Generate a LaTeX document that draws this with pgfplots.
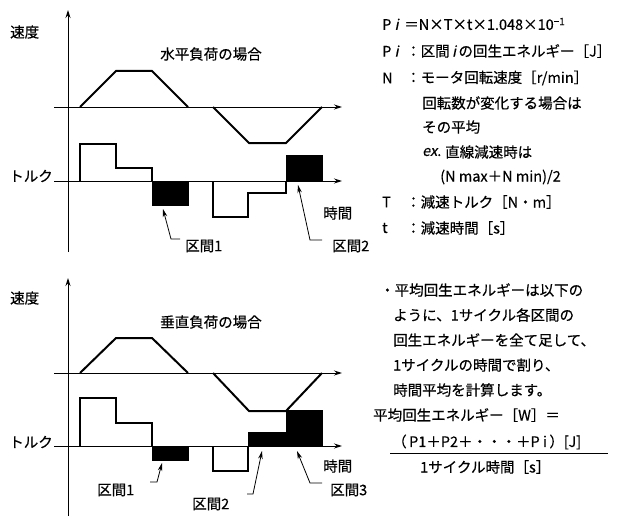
\documentclass[border=0pt]{standalone}
\usepackage{fontspec}
\setmainfont{Noto Sans CJK JP}[FakeBold=0.4]
\newfontfamily\slfont{Noto Sans CJK JP}[FakeSlant=0.2, FakeBold=0.4]
\usepackage{pgfplots}
\pgfplotsset{compat=1.18}
\usetikzlibrary{arrows.meta}

% everything is placed in pixel units of the 624x516 figure, y pointing down
\pgfplotsset{
  axisline/.style={line width=0.9pt, -{Stealth[length=8pt,width=5pt]}},
  prof/.style={line width=2pt, line join=miter},
  lead/.style={line width=0.8pt, -{Stealth[length=8pt,width=4.5pt]}},
}

\begin{document}
\begin{tikzpicture}[every node/.style={inner sep=0pt}]
\begin{axis}[
    width=624pt, height=516pt, scale only axis,
    xmin=0, xmax=624, ymin=0, ymax=516,
    y dir=reverse, hide axis, clip=false,
]
\fontsize{14.5}{17}\selectfont
% bounding box
\addplot[draw=none] coordinates {(0,0) (624,516)};

% ---------- upper panel: horizontal load ----------
\addplot[axisline] coordinates {(68,252) (68,10)};
\addplot[axisline] coordinates {(54,107) (342,107)};
\addplot[axisline] coordinates {(54,181) (342,181)};
% speed
\addplot[prof] coordinates {(80,107) (116,71) (152,71) (188,107)};
\addplot[prof] coordinates {(213,107) (249,143) (286,143) (322,107)};
% torque
\addplot[prof] coordinates {(80,181) (80,144) (116,144) (116,168) (152,168) (152,181)};
\addplot[prof] coordinates {(213,181) (213,217) (248,217) (248,193) (286,193) (286,181)};
\addplot[fill=black, draw=black] coordinates {(152,181) (152,205) (188,205) (188,181)} -- cycle;
\addplot[fill=black, draw=black] coordinates {(286,181) (286,155) (322,155) (322,181)} -- cycle;
% leaders
\addplot[lead] coordinates {(180,239) (171,239) (163,209)};
\addplot[lead] coordinates {(322,240) (310,240) (298,185)};

\node[anchor=west] at (axis cs:10,32) {速度};
\node[anchor=east] at (axis cs:53,176) {トルク};
\node at (axis cs:211,54) {水平負荷の場合};
\node[anchor=west] at (axis cs:323,213) {時間};
\node[anchor=west] at (axis cs:185,246) {区間1};
\node[anchor=west] at (axis cs:332,246) {区間2};

% ---------- lower panel: vertical load ----------
\addplot[axisline] coordinates {(68,516) (68,278)};
\addplot[axisline] coordinates {(54,373) (342,373)};
\addplot[axisline] coordinates {(54,446) (342,446)};
% speed
\addplot[prof] coordinates {(80,373) (116,338) (152,338) (188,373)};
\addplot[prof] coordinates {(213,373) (249,411) (286,411) (322,373)};
% torque
\addplot[prof] coordinates {(80,446) (80,398) (116,398) (116,423) (152,423) (152,446)};
\addplot[prof] coordinates {(213,446) (213,471) (248,471) (248,446)};
\addplot[fill=black, draw=black] coordinates {(152,446) (152,460) (188,460) (188,446)} -- cycle;
\addplot[fill=black, draw=black] coordinates {(248,446) (248,432) (286,432) (286,410) (322,410) (322,446)} -- cycle;
% leaders
\addplot[lead] coordinates {(150,482) (157,482) (162,463)};
\addplot[lead] coordinates {(247,494) (253,494) (262,451)};
\addplot[lead] coordinates {(322,483) (310,483) (297,451)};

\node[anchor=west] at (axis cs:10,298) {速度};
\node[anchor=east] at (axis cs:53,442) {トルク};
\node at (axis cs:211,322) {垂直負荷の場合};
\node[anchor=west] at (axis cs:323,466) {時間};
\node[anchor=west] at (axis cs:97,490) {区間1};
\node[anchor=west] at (axis cs:192,504) {区間2};
\node[anchor=west] at (axis cs:330,490) {区間3};

% ---------- upper right text ----------
\node[anchor=west] at (axis cs:382,24) {P {\slfont i}\, ＝N×T×t×1.048×10\raisebox{0.6ex}{\fontsize{10}{12}\selectfont −1}};
\node[anchor=west] at (axis cs:382,51) {P {\slfont i}};
\node[anchor=west] at (axis cs:406,51) {：区間\,{\slfont i}\,の回生エネルギー［J］};
\node[anchor=west] at (axis cs:382,78) {N};
\node[anchor=west] at (axis cs:406,78) {：モータ回転速度［r/min］};
\node[anchor=west] at (axis cs:422,103) {回転数が変化する場合は};
\node[anchor=west] at (axis cs:422,127) {その平均};
\node[anchor=west] at (axis cs:422,152) {{\slfont ex}.};
\node[anchor=west] at (axis cs:445,152) {直線減速時は};
\node[anchor=west] at (axis cs:440,177) {(N max＋N min)/2};
\node[anchor=west] at (axis cs:382,202) {T};
\node[anchor=west] at (axis cs:406,202) {：減速トルク［N・m］};
\node[anchor=west] at (axis cs:382,228) {t};
\node[anchor=west] at (axis cs:406,228) {：減速時間［s］};

% ---------- lower right text ----------
\node[anchor=west] at (axis cs:380,290) {・平均回生エネルギーは以下の};
\node[anchor=west] at (axis cs:393,315) {ように、1サイクル各区間の};
\node[anchor=west] at (axis cs:393,340) {回生エネルギーを全て足して、};
\node[anchor=west] at (axis cs:393,365) {1サイクルの時間で割り、};
\node[anchor=west] at (axis cs:393,390) {時間平均を計算します。};
\node[anchor=west] at (axis cs:373,415) {平均回生エネルギー［W］＝};
\node[anchor=west] at (axis cs:392,442) {（\,P1＋P2＋・・・＋P i\,）[J]};
\addplot[line width=0.9pt] coordinates {(390,453) (608,453)};
\node[anchor=west] at (axis cs:420,467) {1サイクル時間［s］};
\end{axis}
\end{tikzpicture}
\end{document}
